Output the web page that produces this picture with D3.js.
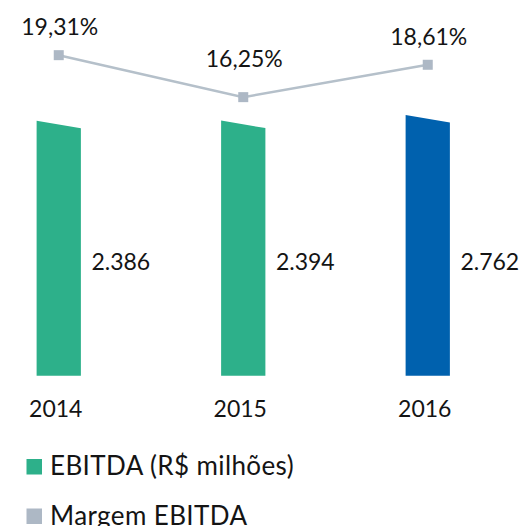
<!DOCTYPE html>
<html>
<head>
<meta charset="utf-8">
<script src="https://cdn.jsdelivr.net/npm/d3@7"></script>
<style>
  html, body { margin: 0; padding: 0; background: #fff; }
  svg { display: block; font-family: Lato, 'Open Sans', sans-serif; }
</style>
</head>
<body>
<div id="chart"></div>
<script>
// Data
const years = ['2014', '2015', '2016'];
const ebitda = [2386, 2394, 2762];
const margem = [19.31, 16.25, 18.61];
const barColors = ['#2db08a', '#2db08a', '#0061ae'];
const legendLabels = ['EBITDA (R$ milhões)', 'Margem EBITDA'];
const legendColors = ['#2db08a', '#adb8c5'];

const width = 528;
const height = 526;

const ptBR = d3.formatLocale({ decimal: ',', thousands: '.', grouping: [3], currency: ['R$', ''] });
const fmtValue = ptBR.format(',d');
const fmtPct = (v) => ptBR.format('.2f')(v) + '%';

const svg = d3.select('#chart')
  .append('svg')
  .attr('width', width)
  .attr('height', height);

// Scales
const x = d3.scaleBand()
  .domain(years)
  .range([-33.5, 520])
  .paddingInner(0.76)
  .paddingOuter(0.38);

// bars are drawn on a truncated scale in the original, heights barely differ
const yBar = d3.scaleLinear().domain([-14400, 2762]).range([375.7, 115]);
const yLine = d3.scaleLinear().domain([15, 20]).range([114.3, 45.7]);

const slant = 7.5;
const bw = x.bandwidth();
const textColor = '#141414';

// Bars with slanted tops
svg.selectAll('.bar')
  .data(ebitda)
  .enter()
  .append('path')
  .attr('class', 'bar')
  .attr('fill', (d, i) => barColors[i])
  .attr('d', (d, i) => {
    const x0 = x(years[i]);
    const top = yBar(d);
    const bottom = yBar.range()[0];
    return `M${x0},${bottom}L${x0},${top}L${x0 + bw},${top + slant}L${x0 + bw},${bottom}Z`;
  });

// Value labels beside bars
svg.selectAll('.val')
  .data(ebitda)
  .enter()
  .append('text')
  .attr('class', 'val')
  .attr('x', (d, i) => x(years[i]) + bw + 10.5)
  .attr('y', 269.5)
  .attr('font-size', '23px')
  .attr('fill', textColor)
  .text((d) => fmtValue(d));

// Margin line
const cx = (i) => x(years[i]) + bw / 2;
const line = d3.line()
  .x((d, i) => cx(i))
  .y((d) => yLine(d));

svg.append('path')
  .datum(margem)
  .attr('fill', 'none')
  .attr('stroke', '#b5c0ca')
  .attr('stroke-width', 2.5)
  .attr('d', line);

svg.selectAll('.mk')
  .data(margem)
  .enter()
  .append('rect')
  .attr('class', 'mk')
  .attr('x', (d, i) => cx(i) - 5)
  .attr('y', (d) => yLine(d) - 5)
  .attr('width', 10)
  .attr('height', 10)
  .attr('fill', '#adb8c5');

// Percent labels (valley point gets lifted more)
svg.selectAll('.pct')
  .data(margem)
  .enter()
  .append('text')
  .attr('class', 'pct')
  .attr('x', (d, i) => cx(i) + 1)
  .attr('y', (d, i) => {
    const valley = i > 0 && i < margem.length - 1 && d < margem[i - 1] && d < margem[i + 1];
    return yLine(d) - (valley ? 30 : 20);
  })
  .attr('text-anchor', 'middle')
  .attr('font-size', '23px')
  .attr('fill', textColor)
  .text((d) => fmtPct(d));

// Year axis
const axis = svg.append('g')
  .attr('transform', 'translate(-3,395)')
  .call(d3.axisBottom(x).tickSize(0).tickPadding(0));
axis.select('.domain').remove();
axis.selectAll('text')
  .attr('dy', '0.71em')
  .attr('y', 5.5)
  .attr('font-size', '23px')
  .attr('font-family', 'Lato, sans-serif')
  .attr('fill', textColor);

// Legend
const legend = svg.append('g').attr('transform', 'translate(26.5,459)');
legendLabels.forEach((label, i) => {
  const g = legend.append('g').attr('transform', `translate(0,${i * 49.5})`);
  g.append('rect')
    .attr('width', 15.5)
    .attr('height', 15.5)
    .attr('fill', legendColors[i]);
  g.append('text')
    .attr('x', 23.5)
    .attr('y', 16)
    .attr('font-size', '26px')
    .attr('letter-spacing', '0.4px')
    .attr('fill', textColor)
    .text(label);
});
</script>
</body>
</html>
